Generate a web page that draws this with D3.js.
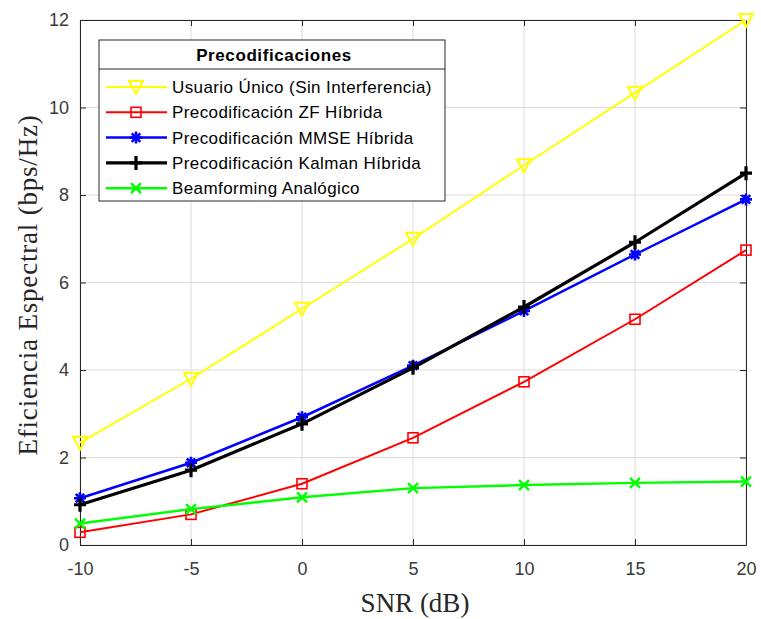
<!DOCTYPE html>
<meta charset="utf-8">
<head>
  <title>Eficiencia espectral vs SNR</title>
  <style>
    body { margin: 0; background: #fff; }
    text { font-family: "Liberation Sans", Arial, sans-serif; }
  </style>
</head>
<body>
  <script src="https://d3js.org/d3.v7.min.js"></script>
  <div id="my_dataviz"></div>
  <script>
    // data
    var snr = [-10, -5, 0, 5, 10, 15, 20];
    var xTicks = [-10, -5, 0, 5, 10, 15, 20];
    var yTicks = [0, 2, 4, 6, 8, 10, 12];
    var usuarioUnico = [2.34, 3.8, 5.4, 7.0, 8.68, 10.34, 12.0];
    var zfHibrida = [0.29, 0.7, 1.4, 2.45, 3.73, 5.16, 6.74];
    var mmseHibrida = [1.07, 1.88, 2.92, 4.1, 5.35, 6.64, 7.9];
    var kalmanHibrida = [0.92, 1.71, 2.77, 4.05, 5.44, 6.92, 8.5];
    var beamforming = [0.49, 0.82, 1.09, 1.3, 1.37, 1.42, 1.45];
    var seriesNames = ["Usuario Único (Sin Interferencia)", "Precodificación ZF Híbrida",
      "Precodificación MMSE Híbrida", "Precodificación Kalman Híbrida", "Beamforming Analógico"];

    var series = [
      {name: seriesNames[0], values: usuarioUnico, color: "#ffff00", width: 2, marker: "tri"},
      {name: seriesNames[1], values: zfHibrida, color: "#ff0000", width: 2, marker: "square"},
      {name: seriesNames[2], values: mmseHibrida, color: "#0000ff", width: 2.5, marker: "star"},
      {name: seriesNames[3], values: kalmanHibrida, color: "#000000", width: 3.2, marker: "plus"},
      {name: seriesNames[4], values: beamforming, color: "#00ff00", width: 2.5, marker: "cross"}
    ];

    var margin = {top: 20, right: 15, bottom: 74, left: 80},
        width = 746 - margin.left,
        height = 545 - margin.top;

    var svg = d3.select("#my_dataviz")
      .append("svg")
        .attr("width", 761)
        .attr("height", 619)
      .append("g")
        .attr("transform", "translate(" + margin.left + "," + margin.top + ")");

    var x = d3.scaleLinear().domain([-10, 20]).range([0, width]);
    var y = d3.scaleLinear().domain([0, 12]).range([height, 0]);

    var axisColor = "#262626";

    // grid
    svg.append("g").selectAll("line.gx")
      .data(xTicks).enter().append("line")
        .attr("x1", function(d) { return x(d); })
        .attr("x2", function(d) { return x(d); })
        .attr("y1", 0).attr("y2", height)
        .attr("stroke", "#dcdcdc").attr("stroke-width", 1);
    svg.append("g").selectAll("line.gy")
      .data(yTicks).enter().append("line")
        .attr("y1", function(d) { return y(d); })
        .attr("y2", function(d) { return y(d); })
        .attr("x1", 0).attr("x2", width)
        .attr("stroke", "#dcdcdc").attr("stroke-width", 1);

    // axes (ticks pointing inward, box on all sides)
    function styleAxis(g) {
      g.select(".domain").attr("stroke", axisColor);
      g.selectAll(".tick line").attr("stroke", axisColor);
      g.selectAll(".tick text").attr("fill", "#3a3a3a")
        .style("font-family", "'Liberation Sans', Arial, sans-serif")
        .style("font-size", "18px");
    }
    var plain = function(d) { return String(d); };
    svg.append("g")
      .attr("transform", "translate(0," + height + ")")
      .call(d3.axisBottom(x).tickValues(xTicks).tickFormat(plain).tickSizeInner(-6).tickSizeOuter(0).tickPadding(17))
      .call(styleAxis);
    svg.append("g")
      .call(d3.axisLeft(y).tickValues(yTicks).tickFormat(plain).tickSizeInner(-6).tickSizeOuter(0).tickPadding(11))
      .call(styleAxis);
    svg.append("g")
      .call(d3.axisTop(x).tickValues(xTicks).tickSizeInner(-6).tickSizeOuter(0).tickFormat(""))
      .call(styleAxis);
    svg.append("g")
      .attr("transform", "translate(" + width + ",0)")
      .call(d3.axisRight(y).tickValues(yTicks).tickSizeInner(-6).tickSizeOuter(0).tickFormat(""))
      .call(styleAxis);

    // marker drawing
    function drawMarker(g, type, color, cx, cy) {
      if (type === "tri") {
        g.append("path")
          .attr("d", "M" + (cx - 7) + "," + (cy - 6) + "L" + (cx + 7) + "," + (cy - 6) + "L" + cx + "," + (cy + 7) + "Z")
          .attr("fill", "none").attr("stroke", color).attr("stroke-width", 2);
      } else if (type === "square") {
        g.append("rect")
          .attr("x", cx - 5).attr("y", cy - 5).attr("width", 10).attr("height", 10)
          .attr("fill", "none").attr("stroke", color).attr("stroke-width", 1.6);
      } else if (type === "star") {
        var p = "";
        for (var k = 0; k < 4; k++) {
          var a = k * Math.PI / 4;
          p += "M" + (cx - 6 * Math.cos(a)) + "," + (cy - 6 * Math.sin(a)) +
               "L" + (cx + 6 * Math.cos(a)) + "," + (cy + 6 * Math.sin(a));
        }
        g.append("path").attr("d", p).attr("stroke", color).attr("stroke-width", 2.6);
      } else if (type === "plus") {
        g.append("path")
          .attr("d", "M" + (cx - 6) + "," + cy + "L" + (cx + 6) + "," + cy + "M" + cx + "," + (cy - 7) + "L" + cx + "," + (cy + 7))
          .attr("stroke", color).attr("stroke-width", 3.2);
      } else if (type === "cross") {
        g.append("path")
          .attr("d", "M" + (cx - 5) + "," + (cy - 5) + "L" + (cx + 5) + "," + (cy + 5) + "M" + (cx + 5) + "," + (cy - 5) + "L" + (cx - 5) + "," + (cy + 5))
          .attr("stroke", color).attr("stroke-width", 2.4);
      }
    }

    var line = d3.line()
      .x(function(d) { return x(d[0]); })
      .y(function(d) { return y(d[1]); });

    series.forEach(function(s) {
      var pts = snr.map(function(v, i) { return [v, s.values[i]]; });
      var g = svg.append("g");
      g.append("path")
        .datum(pts)
        .attr("d", line)
        .attr("fill", "none")
        .attr("stroke", s.color)
        .attr("stroke-width", s.width)
        .attr("stroke-linejoin", "round");
      pts.forEach(function(p) { drawMarker(g, s.marker, s.color, x(p[0]), y(p[1])); });
    });

    // legend
    var lg = svg.append("g").attr("transform", "translate(" + (99 - margin.left) + "," + (40 - margin.top) + ")");
    lg.append("rect")
      .attr("width", 346).attr("height", 161)
      .attr("fill", "#fff").attr("stroke", axisColor).attr("stroke-width", 1);
    lg.append("line")
      .attr("x1", 0).attr("x2", 346).attr("y1", 29).attr("y2", 29)
      .attr("stroke", axisColor);
    lg.append("text")
      .attr("x", 175).attr("y", 21)
      .attr("text-anchor", "middle")
      .style("font-size", "17px").style("font-weight", "bold")
      .style("letter-spacing", "0.6px")
      .attr("fill", "#000")
      .text("Precodificaciones");
    series.forEach(function(s, i) {
      var ly = 47 + i * 25.3;
      lg.append("line")
        .attr("x1", 7).attr("x2", 68).attr("y1", ly).attr("y2", ly)
        .attr("stroke", s.color).attr("stroke-width", s.width);
      drawMarker(lg, s.marker, s.color, 37, ly);
      lg.append("text")
        .attr("x", 73).attr("y", ly + 6)
        .style("font-size", "17px")
        .style("letter-spacing", "0.4px")
        .attr("fill", "#000")
        .text(s.name);
    });

    // axis titles
    svg.append("text")
      .attr("x", width / 2 + 2).attr("y", 612 - margin.top)
      .attr("text-anchor", "middle")
      .style("font-family", "'Liberation Serif', 'Times New Roman', serif")
      .style("font-size", "27px")
      .attr("fill", axisColor)
      .text("SNR (dB)");
    svg.append("text")
      .attr("transform", "translate(" + (37 - margin.left) + "," + (285 - margin.top) + ") rotate(-90)")
      .attr("text-anchor", "middle")
      .style("font-family", "'Liberation Serif', 'Times New Roman', serif")
      .style("font-size", "27px")
      .style("letter-spacing", "0.8px")
      .attr("fill", axisColor)
      .text("Eficiencia Espectral (bps/Hz)");
  </script>
</body>
